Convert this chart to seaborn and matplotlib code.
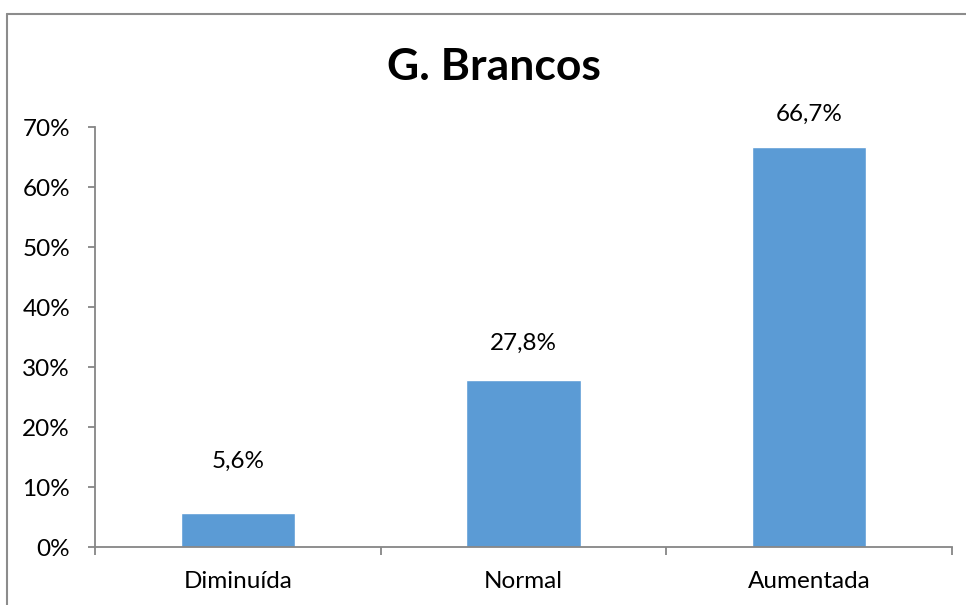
import matplotlib
matplotlib.use("Agg")
import matplotlib.pyplot as plt
from matplotlib.lines import Line2D
from matplotlib.ticker import FuncFormatter, FixedLocator
import seaborn as sns
import pandas as pd

categories = ["Diminuída", "Normal", "Aumentada"]
values = [5.6, 27.8, 66.7]
title = "G. Brancos"

sns.set_style("white")
plt.rcParams["font.family"] = ["Lato", "DejaVu Sans"]

df = pd.DataFrame({"categoria": categories, "valor": values})

fig = plt.figure(figsize=(9.66, 6.05), dpi=100)
ax = fig.add_axes([95/966, 1-547/605, (952-95)/966, (547-127)/605])

sns.barplot(data=df, x="categoria", y="valor", color="#5B9BD5", width=0.4,
            saturation=1, ax=ax, order=categories)

axis_gray = "#868686"
ax.set_ylim(0, 70)
ax.set_xlim(-0.5, len(categories) - 0.5)
ax.set_yticks(range(0, 71, 10))
ax.yaxis.set_major_formatter(FuncFormatter(lambda v, p: f"{int(round(v))}%"))
ax.set_xlabel("")
ax.set_ylabel("")

for s in ["top", "right"]:
    ax.spines[s].set_visible(False)
for s in ["left", "bottom"]:
    ax.spines[s].set_color(axis_gray)
    ax.spines[s].set_linewidth(1.3)

fs = 17.5
ax.tick_params(axis="y", which="major", direction="out", length=5, width=1.3,
               color=axis_gray, left=True, labelsize=fs, pad=13, labelcolor="black")
ax.tick_params(axis="x", which="major", length=0, labelsize=fs, pad=17, labelcolor="black")
ax.xaxis.set_minor_locator(FixedLocator([-0.5, 0.5, 1.5, 2.5]))
ax.tick_params(axis="x", which="minor", direction="out", length=6, width=1.3,
               color=axis_gray, bottom=True)

offsets = [30, 19, 16]
for i, v in enumerate(values):
    lbl = f"{v:.1f}".replace(".", ",") + "%"
    ax.annotate(lbl, xy=(i, v), xytext=(0, offsets[i]), textcoords="offset points",
                ha="center", va="bottom", fontsize=fs, color="black")

fig.text(494/966, 1-67/605, title, ha="center", va="center",
         fontsize=32, fontweight="bold", color="black")

border = "#8c8c8c"
fig.add_artist(Line2D([7/966, 7/966], [0, 1-14/605], transform=fig.transFigure,
                      color=border, linewidth=1.5))
fig.add_artist(Line2D([7/966, 1], [1-14/605, 1-14/605], transform=fig.transFigure,
                      color=border, linewidth=1.5))

fig.savefig("out.png", dpi=100)
